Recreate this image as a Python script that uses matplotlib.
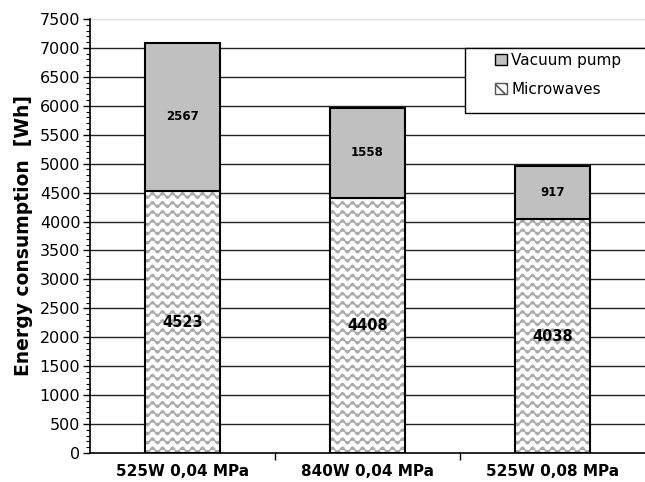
import numpy as np
import matplotlib.pyplot as plt
from matplotlib import hatch as mhatch
from matplotlib.path import Path
from matplotlib.patches import Patch, Rectangle

categories = ["525W 0,04 MPa", "840W 0,04 MPa", "525W 0,08 MPa"]
microwaves = [4523, 4408, 4038]
vacuum_pump = [2567, 1558, 917]


# wavy hatch, registered as 'w'
class WaveHatch(mhatch.HatchPatternBase):
    rows = 11
    cycles = 10
    pts = cycles * 12 + 1

    def __init__(self, hatch, density):
        self.num_vertices = self.rows * self.pts if 'w' in hatch else 0

    def set_vertices_and_codes(self, vertices, codes):
        t = np.linspace(0, 1, self.pts)
        k = 0
        for r in range(self.rows):
            y0 = (r + 0.5) / self.rows
            vertices[k:k + self.pts, 0] = t
            vertices[k:k + self.pts, 1] = y0 + 0.028 * np.sin(2 * np.pi * self.cycles * t)
            codes[k] = Path.MOVETO
            codes[k + 1:k + self.pts] = Path.LINETO
            k += self.pts


mhatch._hatch_types.append(WaveHatch)

plt.rcParams['font.family'] = ['DejaVu Sans']
plt.rcParams['hatch.linewidth'] = 1.2

fig = plt.figure(figsize=(6.45, 4.82), dpi=100)
ax = fig.add_axes([0.1395, 0.0602, 0.8605, 0.9004])

x = np.arange(len(categories))
w = 0.405

for y in range(500, 7500, 500):
    ax.axhline(y, color='#222222', lw=1.0, zorder=0)
ax.axhline(7500, color='#dddddd', lw=1.0, zorder=0)

ax.bar(x, microwaves, w, color='white', edgecolor='#ababab', hatch='w', lw=0, zorder=2)
ax.bar(x, microwaves, w, fill=False, edgecolor='black', lw=1.5, zorder=3)
ax.bar(x, vacuum_pump, w, bottom=microwaves, color='#c0c0c0', edgecolor='black', lw=1.5, zorder=3)

for i in range(len(categories)):
    ax.text(x[i], microwaves[i] / 2, str(microwaves[i]), ha='center', va='center',
            fontsize=10.5, fontweight='bold', zorder=4)
    ax.text(x[i], microwaves[i] + vacuum_pump[i] / 2, str(vacuum_pump[i]), ha='center', va='center',
            fontsize=8.5, fontweight='bold', zorder=4)

ax.set_xlim(-0.5, 2.5)
ax.set_ylim(0, 7500)
ax.set_yticks(np.arange(0, 7501, 500))
ax.set_yticks(np.arange(0, 7501, 100), minor=True)
ax.tick_params(axis='y', which='major', labelsize=11.5, length=5, width=1, direction='out', pad=2)
ax.tick_params(axis='y', which='minor', length=3, width=0.8, direction='out')

ax.set_xticks(x)
ax.set_xticklabels(categories, fontsize=11, fontweight='bold')
ax.tick_params(axis='x', which='major', length=0, pad=8)
ax.set_xticks([0.5, 1.5], minor=True)
ax.tick_params(axis='x', which='minor', length=5, width=1, direction='out')

ax.set_ylabel("Energy consumption  [Wh]", fontsize=13.5, fontweight='bold', labelpad=5)

for s in ['top', 'right']:
    ax.spines[s].set_visible(False)
ax.spines['left'].set_linewidth(1.2)
ax.spines['bottom'].set_linewidth(1.2)

handles = [Patch(facecolor='#c0c0c0', edgecolor='black'),
           Patch(facecolor='white', edgecolor='#555555', hatch='\\\\\\')]
leg = fig.legend(handles, ["Vacuum pump", "Microwaves"], loc='upper left',
                 bbox_to_anchor=(492 / 645, 1 - 50 / 482), fontsize=11, frameon=False,
                 handlelength=0.75, handleheight=0.75, handletextpad=0.3, borderpad=0.2,
                 labelspacing=0.9, borderaxespad=0)
fig.patches.append(Rectangle((465 / 645, 1 - 113 / 482), 0.3, 65 / 482, transform=fig.transFigure,
                             facecolor='white', edgecolor='black', lw=1.0, zorder=5))
leg.set_zorder(6)

fig.savefig("out.png", dpi=100)
